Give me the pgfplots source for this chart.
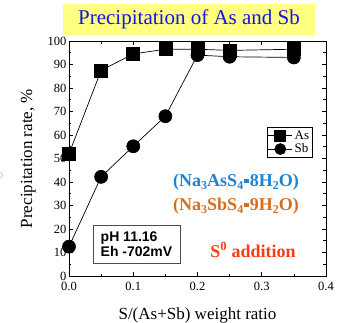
\documentclass[border=0pt]{standalone}
\usepackage{fontspec}
\setmainfont{Liberation Serif}
\newfontfamily\arialfont{Liberation Sans}
\usepackage{pgfplots}
\pgfplotsset{compat=1.18}
\definecolor{titleblue}{RGB}{20,20,230}
\definecolor{titlebg}{RGB}{255,255,128}
\definecolor{asblue}{RGB}{30,130,210}
\definecolor{sborange}{RGB}{215,110,30}
\definecolor{sred}{RGB}{250,60,20}
\newcommand{\dotsq}{\kern1pt\raisebox{3pt}{\rule{4.5pt}{4.5pt}}\kern1pt}
\newcommand{\sub}[1]{\raisebox{-3.5pt}{\fontsize{12}{12}\selectfont #1}}
\begin{document}
\begin{tikzpicture}[x=1pt,y=1pt]
\useasboundingbox (-69,-46) rectangle (277,276);
\begin{axis}[
  at={(0,0)}, anchor=south west,
  scale only axis, width=257pt, height=235pt,
  xmin=0, xmax=0.4, ymin=0, ymax=100,
  xtick={0,0.1,0.2,0.3,0.4},
  xticklabels={0.0,0.1,0.2,0.3,0.4},
  ytick={0,10,...,100},
  minor x tick num=1, minor y tick num=1,
  tick align=inside, tick pos=both,
  major tick length=4pt, minor tick length=2.5pt,
  axis line style={line width=0.8pt},
  every tick/.style={black, line width=0.6pt},
  ticklabel style={font=\fontsize{12.5}{14}\selectfont},
  yticklabel style={xshift=1pt},
  xticklabel style={yshift=-2.5pt},
  /pgf/number format/assume math mode=true,
  xlabel={S/(As+Sb) weight ratio},
  ylabel={Precipitation rate, \%},
  xlabel style={font=\fontsize{17}{19}\selectfont, yshift=-10pt},
  ylabel style={font=\fontsize{17}{19}\selectfont, yshift=5pt},
  legend style={at={(0.858,0.568)}, anchor=center, font=\fontsize{13}{14}\selectfont,
    draw=black, line width=0.6pt, inner sep=1pt, row sep=-1pt,
    /tikz/every even column/.append style={column sep=1pt}},
  legend cell align=left,
  legend image code/.code={%
    \draw[mark repeat=2, mark phase=2, #1, mark size=5.5pt]
      plot coordinates {(0pt,0pt) (12pt,0pt) (24pt,0pt)};},
]
\addplot[black, line width=0.7pt, mark=square*, mark size=6.5pt, mark options={fill=black}]
  coordinates {(0,52) (0.05,87.5) (0.1,94.5) (0.15,96.5) (0.2,96.5) (0.25,96.0) (0.35,96.5)};
\addlegendentry{As}
\addplot[black, line width=0.7pt, mark=*, mark size=6.5pt, mark options={fill=black}]
  coordinates {(0,12.5) (0.05,42.2) (0.1,55.2) (0.15,68.0) (0.2,94.0) (0.25,93.3) (0.35,93.0)};
\addlegendentry{Sb}
\end{axis}
% title
\node[fill=titlebg, minimum width=252pt, minimum height=31pt, inner sep=0pt,
  text=titleblue, font=\fontsize{21}{23}\selectfont] at (120,256.5) {Precipitation of As and Sb};
% compound labels
\node[text=asblue, font=\bfseries\fontsize{18}{20}\selectfont] at (167,94)
  {(Na\sub{3}AsS\sub{4}\dotsq8H\sub{2}O)};
\node[text=sborange, font=\bfseries\fontsize{18}{20}\selectfont] at (167,70)
  {(Na\sub{3}SbS\sub{4}\dotsq9H\sub{2}O)};
\node[text=sred, font=\bfseries\fontsize{18}{20}\selectfont] at (184,26)
  {S\textsuperscript{0} addition};
% conditions box
\node[draw=black!70, line width=0.6pt, minimum width=87pt, minimum height=38pt,
  inner sep=3pt, align=left, font=\arialfont\bfseries\fontsize{14}{15.5}\selectfont] at (67.5,32)
  {pH 11.16\\Eh -702mV};
% background diamond fragment
\draw[color=asblue!40, line width=0.6pt] (-73,108) -- (-66,101) -- (-73,94);
\end{tikzpicture}
\end{document}
